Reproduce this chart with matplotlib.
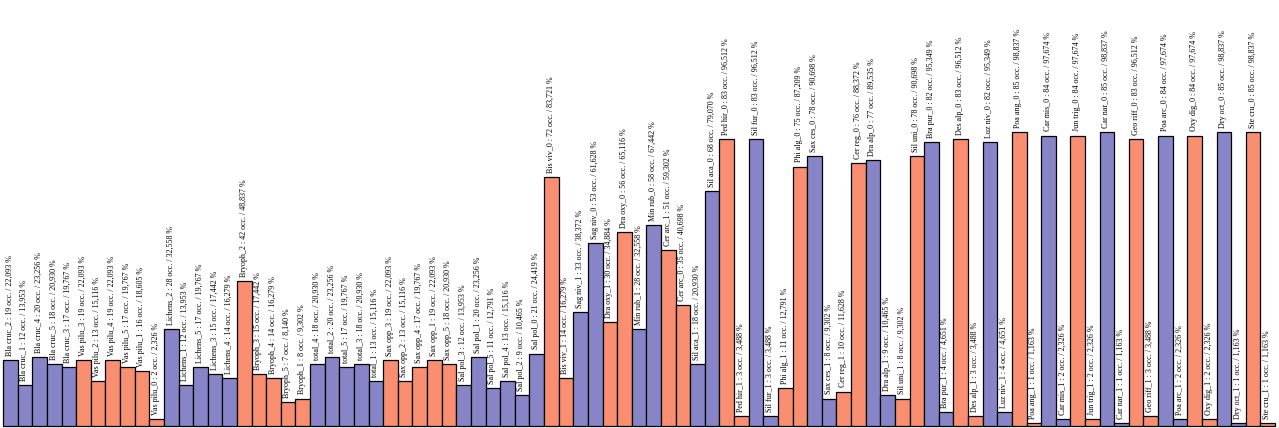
import matplotlib
matplotlib.use('Agg')
import matplotlib.pyplot as plt
import numpy as np

# Modalites (barres) dans l'ordre d'affichage
modalites = [
    'Bla cruc_2', 'Bla cruc_1', 'Bla cruc_4', 'Bla cruc_5', 'Bla cruc_3',
    'Vas pilu_3', 'Vas pilu_2', 'Vas pilu_4', 'Vas pilu_5', 'Vas pilu_1', 'Vas pilu_0',
    'Lichens_2', 'Lichens_1', 'Lichens_5', 'Lichens_3', 'Lichens_4',
    'Bryoph_2', 'Bryoph_3', 'Bryoph_4', 'Bryoph_5', 'Bryoph_1',
    'total_4', 'total_2', 'total_5', 'total_3', 'total_1',
    'Sax opp_3', 'Sax opp_2', 'Sax opp_4', 'Sax opp_1', 'Sax opp_5',
    'Sal pol_3', 'Sal pol_1', 'Sal pol_5', 'Sal pol_4', 'Sal pol_2', 'Sal pol_0',
    'Bis viv_0', 'Bis viv_1', 'Sag niv_1', 'Sag niv_0', 'Dra oxy_1', 'Dra oxy_0',
    'Min rub_1', 'Min rub_0', 'Cer arc_1', 'Cer arc_0', 'Sil aca_1', 'Sil aca_0',
    'Ped hir_0', 'Ped hir_1', 'Sil fur_0', 'Sil fur_1', 'Phi alg_1', 'Phi alg_0',
    'Sax ces_0', 'Sax ces_1', 'Cer reg_1', 'Cer reg_0', 'Dra alp_0', 'Dra alp_1',
    'Sil uni_1', 'Sil uni_0', 'Bra pur_0', 'Bra pur_1', 'Des alp_0', 'Des alp_1',
    'Luz niv_0', 'Luz niv_1', 'Poa ang_0', 'Poa ang_1', 'Car mis_0', 'Car mis_1',
    'Jun trig_0', 'Jun trig_1', 'Car nar_0', 'Car nar_1', 'Geo riff_0', 'Geo riff_1',
    'Poa arc_0', 'Poa arc_1', 'Oxy dig_0', 'Oxy dig_1', 'Dry oct_0', 'Dry oct_1',
    'Ste cru_0', 'Ste cru_1',
]

occurrences = [
    19, 12, 20, 18, 17,
    19, 13, 19, 17, 16, 2,
    28, 12, 17, 15, 14,
    42, 15, 14, 7, 8,
    18, 20, 17, 18, 13,
    19, 13, 17, 19, 18,
    12, 20, 11, 13, 9, 21,
    72, 14, 33, 53, 30, 56,
    28, 58, 51, 35, 18, 68,
    83, 3, 83, 3, 11, 75,
    78, 8, 10, 76, 77, 9,
    8, 78, 82, 4, 83, 3,
    82, 4, 85, 1, 84, 2,
    84, 2, 85, 1, 83, 3,
    84, 2, 84, 2, 85, 1,
    85, 1,
]

pourcentages = [
    22.093, 13.953, 23.256, 20.930, 19.767,
    22.093, 15.116, 22.093, 19.767, 18.605, 2.326,
    32.558, 13.953, 19.767, 17.442, 16.279,
    48.837, 17.442, 16.279, 8.140, 9.302,
    20.930, 23.256, 19.767, 20.930, 15.116,
    22.093, 15.116, 19.767, 22.093, 20.930,
    13.953, 23.256, 12.791, 15.116, 10.465, 24.419,
    83.721, 16.279, 38.372, 61.628, 34.884, 65.116,
    32.558, 67.442, 59.302, 40.698, 20.930, 79.070,
    96.512, 3.488, 96.512, 3.488, 12.791, 87.209,
    90.698, 9.302, 11.628, 88.372, 89.535, 10.465,
    9.302, 90.698, 95.349, 4.651, 96.512, 3.488,
    95.349, 4.651, 98.837, 1.163, 97.674, 2.326,
    97.674, 2.326, 98.837, 1.163, 96.512, 3.488,
    97.674, 2.326, 97.674, 2.326, 98.837, 1.163,
    98.837, 1.163,
]

couleurs = ['#8884c8', '#f98e70']

# une couleur par variable, en alternance
variables = [m.rsplit('_', 1)[0] for m in modalites]
col_barres = []
k = -1
prec = None
for v in variables:
    if v != prec:
        k += 1
        prec = v
    col_barres.append(couleurs[k % 2])

fig = plt.figure(figsize=(12.79, 4.28), dpi=100)
ax = fig.add_axes([0, 0, 1, 1])

x = np.arange(len(modalites))
ax.bar(x, pourcentages, width=1.0, color=col_barres, edgecolor='black', linewidth=0.9)

# etiquettes verticales au-dessus de chaque barre
for xi, m, o, p in zip(x, modalites, occurrences, pourcentages):
    txt = f"{m} : {o} occ. / " + f"{p:.3f}".replace('.', ',') + " %"
    ax.annotate(txt, (xi, p), xytext=(-0.5, 3), textcoords='offset points',
                rotation=90, ha='center', va='bottom',
                fontsize=5.8, family='Liberation Serif')

ax.set_xlim(-0.71, len(modalites) - 0.23)
ax.set_ylim(-0.6, 143.2)
ax.axis('off')

fig.savefig('out.png', dpi=100)
